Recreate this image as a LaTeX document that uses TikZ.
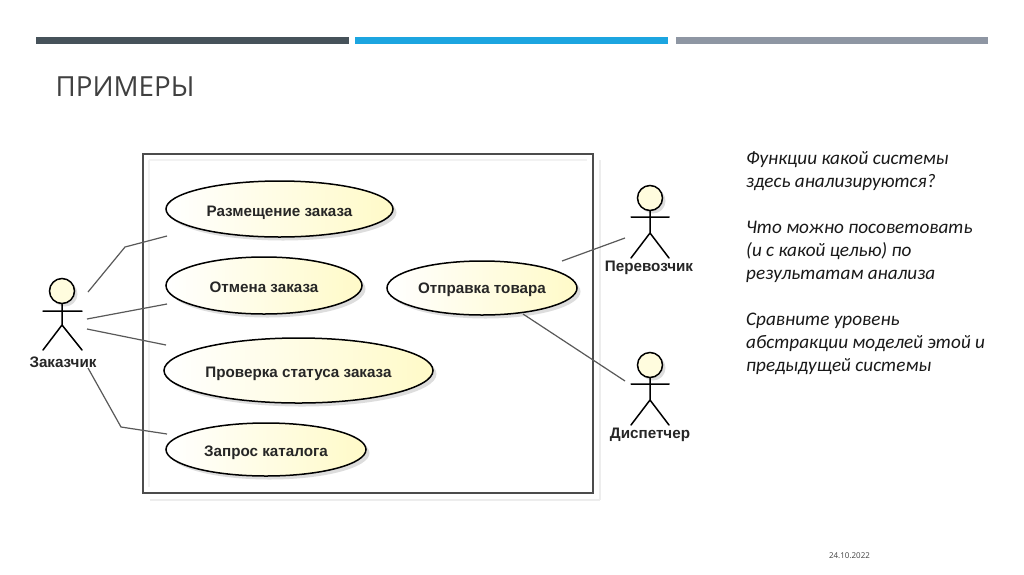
\documentclass[tikz,border=0pt]{standalone}
\usepackage{fontspec}
\setmainfont{Open Sans}
\newfontfamily\umlfont{Liberation Sans}[BoldFont={Liberation Sans Bold}]
\newfontfamily\notefont{Carlito}
\usetikzlibrary{shapes.geometric,shadows}
\definecolor{bardark}{HTML}{46525A}
\definecolor{barblue}{HTML}{1CA5E0}
\definecolor{bargrey}{HTML}{8E96A3}
\definecolor{titlecol}{HTML}{404040}
\definecolor{creamy}{HTML}{FFFAC8}
\newcommand{\uctext}[2][7pt]{\raisebox{-#1}[0pt][0pt]{#2}}
\tikzset{
  x=1pt,y=-1pt,
  bar/.style={minimum height=7pt,inner sep=0pt,outer sep=0pt,anchor=north west,minimum width=312.5pt},
  usecase/.style={ellipse,draw=black,line width=1.5pt,inner sep=0pt,
    left color=white,right color=creamy,text=black!85,
    font=\umlfont\bfseries\fontsize{15.2}{17}\selectfont,
    drop shadow={shadow xshift=3.5pt,shadow yshift=-3.5pt,fill=black!22,opacity=.6}},
  actorlabel/.style={inner sep=0pt,text=black!85,font=\umlfont\bfseries\fontsize{15.2}{17}\selectfont},
  stick/.style={draw=black,line width=1.5pt,line cap=round},
  head/.style={circle,draw=black,line width=1.5pt,fill=creamy!60,inner sep=0pt,minimum size=25pt,
    drop shadow={shadow xshift=3pt,shadow yshift=-3pt,fill=black!22,opacity=.6}},
  link/.style={draw=black!65,line width=1.2pt},
  frameline/.style={draw=black!70,line width=1.4pt},
  note/.style={anchor=north west,inner sep=0pt,align=left,text=black!90,
    font=\notefont\itshape\fontsize{19.2}{23}\selectfont},
}
\begin{document}
\begin{tikzpicture}
\useasboundingbox (0,0) rectangle (1024,574);
\fill[white] (0,0) rectangle (1024,574);
% top bars
\node[bar,fill=bardark] (bar1) at (36,37) {};
\node[bar,fill=barblue] (bar2) at (355,37) {};
\node[bar,fill=bargrey] (bar3) at (675.5,37) {};
\node[anchor=base west,inner sep=0pt,text=titlecol,font=\fontsize{27.7}{30}\selectfont] (title) at (55.5,96) {ПРИМЕРЫ};
% system frame
\draw[black!7,line width=2pt] (150,500) -- (600,500);
\draw[black!5,line width=2pt] (149,160) -- (587,160);
\draw[black!5,line width=2pt] (149,160) -- (149,487);
\draw[black!7,line width=2pt] (600,160) -- (600,500);
\draw[frameline] (143,154) rectangle (593,493);
% use cases
\node[usecase,minimum width=227pt,minimum height=56pt] (uc1) at (279.5,209) {\uctext{Размещение заказа}};
\node[usecase,minimum width=196pt,minimum height=57pt] (uc2) at (264,285.5) {\uctext{Отмена заказа}};
\node[usecase,minimum width=269pt,minimum height=65pt] (uc3) at (298.5,370.5) {\uctext{Проверка статуса заказа}};
\node[usecase,minimum width=200pt,minimum height=53pt] (uc4) at (266,449.5) {\uctext[6.5pt]{Запрос каталога}};
\node[usecase,minimum width=190pt,minimum height=54pt] (uc5) at (482,288) {\uctext[5.5pt]{Отправка товара}};
% actors
\node[head] (h1) at (62,291) {};
\draw[stick] (h1.south) -- (62,325) (43,311) -- (82,311) (43,350) -- (62,325) -- (82,350);
\node[actorlabel] (zak) at (63,362) {Заказчик};
\node[head] (h2) at (650,198) {};
\draw[stick] (h2.south) -- (650,233) (631,217) -- (669,217) (631,258) -- (650,233) -- (669,258);
\node[actorlabel] (per) at (649,268) {Перевозчик};
\node[head] (h3) at (650,365) {};
\draw[stick] (h3.south) -- (650,400) (631,384) -- (669,384) (631,425) -- (650,400) -- (669,425);
\node[actorlabel] (dis) at (650,435) {Диспетчер};
% connector ends
\coordinate (a1) at (88,292);
\coordinate (a1b) at (125,247);
\coordinate (c1) at (167,236);
\coordinate (a2) at (87,319);
\coordinate (c2) at (167,304);
\coordinate (a3) at (87,329);
\coordinate (c3) at (166,345);
\coordinate (a4) at (88,368);
\coordinate (a4b) at (121,427);
\coordinate (c4) at (167,434);
\coordinate (c5) at (562,261);
\coordinate (p1) at (625,238);
\coordinate (c6) at (523,314);
\coordinate (d1) at (625,381);
\draw[link] (a1) -- (a1b) -- (c1);
\draw[link] (a2) -- (c2);
\draw[link] (a3) -- (c3);
\draw[link] (a4) -- (a4b) -- (c4);
\draw[link] (c5) -- (p1);
\draw[link] (c6) -- (d1);
% notes
\node[note] (n1) at (746,151) {Функции какой системы\\здесь анализируются?\\[23pt]Что можно посоветовать\\(и с какой целью) по\\результатам анализа\\[23pt]Сравните уровень\\абстракции моделей этой и\\предыдущей системы};
\node[inner sep=0pt,text=black!75,font=\fontsize{8}{9}\selectfont] (date) at (849.5,555.5) {24.10.2022};
\end{tikzpicture}
\end{document}
